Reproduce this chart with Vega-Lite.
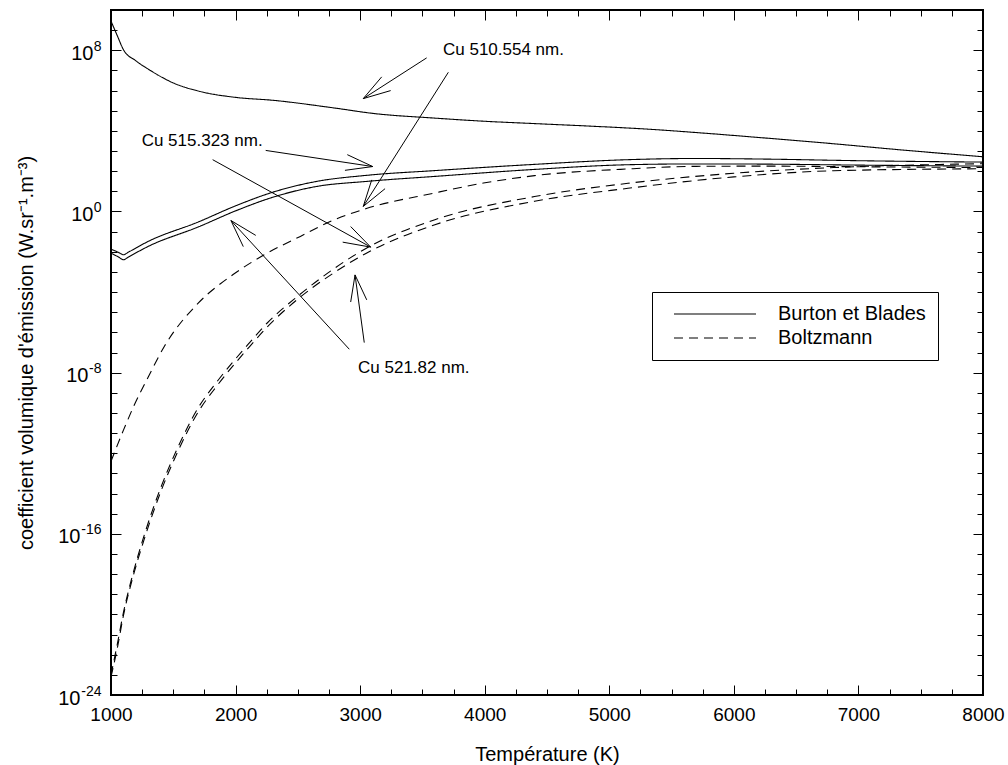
{
  "$schema": "https://vega.github.io/schema/vega-lite/v6.json",
  "width": 872,
  "height": 685,
  "autosize": {"type": "none"},
  "padding": {"left": 111, "top": 10, "right": 25, "bottom": 70},
  "config": {
    "font": "Liberation Sans",
    "view": {"stroke": "black", "strokeWidth": 2},
    "axis": {
      "domain": false, "grid": false, "ticks": true, "tickColor": "black", "tickWidth": 1, "tickOpacity": 1,
      "labelColor": "black", "titleColor": "black", "labelFont": "Liberation Sans", "titleFont": "Liberation Sans",
      "labelFontSize": 19, "titleFontSize": 20, "titleFontWeight": "normal", "zindex": 1
    }
  },
  "datasets": {
    "curves": [
      {"line": "510.554", "model": "Burton et Blades", "T": 1000, "v": 2.8e9},
      {"line": "510.554", "model": "Burton et Blades", "T": 1050, "v": 5.4e8},
      {"line": "510.554", "model": "Burton et Blades", "T": 1100, "v": 1.07e8},
      {"line": "510.554", "model": "Burton et Blades", "T": 1200, "v": 3.0e7},
      {"line": "510.554", "model": "Burton et Blades", "T": 1300, "v": 1.15e7},
      {"line": "510.554", "model": "Burton et Blades", "T": 1500, "v": 2.4e6},
      {"line": "510.554", "model": "Burton et Blades", "T": 1700, "v": 9.5e5},
      {"line": "510.554", "model": "Burton et Blades", "T": 2000, "v": 4.6e5},
      {"line": "510.554", "model": "Burton et Blades", "T": 2300, "v": 3.3e5},
      {"line": "510.554", "model": "Burton et Blades", "T": 2800, "v": 1.35e5},
      {"line": "510.554", "model": "Burton et Blades", "T": 3100, "v": 7.4e4},
      {"line": "510.554", "model": "Burton et Blades", "T": 3600, "v": 4.3e4},
      {"line": "510.554", "model": "Burton et Blades", "T": 4000, "v": 3.0e4},
      {"line": "510.554", "model": "Burton et Blades", "T": 4400, "v": 2.3e4},
      {"line": "510.554", "model": "Burton et Blades", "T": 4900, "v": 1.66e4},
      {"line": "510.554", "model": "Burton et Blades", "T": 5300, "v": 1.23e4},
      {"line": "510.554", "model": "Burton et Blades", "T": 5800, "v": 7.4e3},
      {"line": "510.554", "model": "Burton et Blades", "T": 6200, "v": 4.7e3},
      {"line": "510.554", "model": "Burton et Blades", "T": 6800, "v": 2.3e3},
      {"line": "510.554", "model": "Burton et Blades", "T": 7300, "v": 1.2e3},
      {"line": "510.554", "model": "Burton et Blades", "T": 8000, "v": 5.2e2},

      {"line": "515.323", "model": "Burton et Blades", "T": 1000, "v": 1.35e-2},
      {"line": "515.323", "model": "Burton et Blades", "T": 1060, "v": 9.3e-3},
      {"line": "515.323", "model": "Burton et Blades", "T": 1100, "v": 7.1e-3},
      {"line": "515.323", "model": "Burton et Blades", "T": 1140, "v": 9.6e-3},
      {"line": "515.323", "model": "Burton et Blades", "T": 1300, "v": 3.3e-2},
      {"line": "515.323", "model": "Burton et Blades", "T": 1700, "v": 0.30},
      {"line": "515.323", "model": "Burton et Blades", "T": 2000, "v": 1.9},
      {"line": "515.323", "model": "Burton et Blades", "T": 2300, "v": 9.1},
      {"line": "515.323", "model": "Burton et Blades", "T": 2650, "v": 31},
      {"line": "515.323", "model": "Burton et Blades", "T": 3050, "v": 62},
      {"line": "515.323", "model": "Burton et Blades", "T": 3600, "v": 107},
      {"line": "515.323", "model": "Burton et Blades", "T": 4350, "v": 209},
      {"line": "515.323", "model": "Burton et Blades", "T": 5150, "v": 372},
      {"line": "515.323", "model": "Burton et Blades", "T": 5700, "v": 427},
      {"line": "515.323", "model": "Burton et Blades", "T": 6250, "v": 398},
      {"line": "515.323", "model": "Burton et Blades", "T": 7000, "v": 331},
      {"line": "515.323", "model": "Burton et Blades", "T": 8000, "v": 282},

      {"line": "521.82", "model": "Burton et Blades", "T": 1000, "v": 8.5e-3},
      {"line": "521.82", "model": "Burton et Blades", "T": 1060, "v": 5.5e-3},
      {"line": "521.82", "model": "Burton et Blades", "T": 1100, "v": 4.0e-3},
      {"line": "521.82", "model": "Burton et Blades", "T": 1140, "v": 5.5e-3},
      {"line": "521.82", "model": "Burton et Blades", "T": 1300, "v": 1.86e-2},
      {"line": "521.82", "model": "Burton et Blades", "T": 1700, "v": 0.17},
      {"line": "521.82", "model": "Burton et Blades", "T": 2000, "v": 1.07},
      {"line": "521.82", "model": "Burton et Blades", "T": 2300, "v": 5.1},
      {"line": "521.82", "model": "Burton et Blades", "T": 2650, "v": 17.4},
      {"line": "521.82", "model": "Burton et Blades", "T": 3050, "v": 31},
      {"line": "521.82", "model": "Burton et Blades", "T": 3600, "v": 55},
      {"line": "521.82", "model": "Burton et Blades", "T": 4350, "v": 117},
      {"line": "521.82", "model": "Burton et Blades", "T": 5150, "v": 209},
      {"line": "521.82", "model": "Burton et Blades", "T": 5700, "v": 229},
      {"line": "521.82", "model": "Burton et Blades", "T": 6250, "v": 224},
      {"line": "521.82", "model": "Burton et Blades", "T": 7000, "v": 200},
      {"line": "521.82", "model": "Burton et Blades", "T": 8000, "v": 178},

      {"line": "510.554", "model": "Boltzmann", "T": 1000, "v": 4.0e-13},
      {"line": "510.554", "model": "Boltzmann", "T": 1100, "v": 1.4e-11},
      {"line": "510.554", "model": "Boltzmann", "T": 1180, "v": 2.0e-10},
      {"line": "510.554", "model": "Boltzmann", "T": 1300, "v": 6.3e-9},
      {"line": "510.554", "model": "Boltzmann", "T": 1430, "v": 2.1e-7},
      {"line": "510.554", "model": "Boltzmann", "T": 1700, "v": 2.8e-5},
      {"line": "510.554", "model": "Boltzmann", "T": 1980, "v": 7.4e-4},
      {"line": "510.554", "model": "Boltzmann", "T": 2230, "v": 7.1e-3},
      {"line": "510.554", "model": "Boltzmann", "T": 2520, "v": 5.8e-2},
      {"line": "510.554", "model": "Boltzmann", "T": 2780, "v": 0.36},
      {"line": "510.554", "model": "Boltzmann", "T": 3050, "v": 1.4},
      {"line": "510.554", "model": "Boltzmann", "T": 3590, "v": 8.1},
      {"line": "510.554", "model": "Boltzmann", "T": 3990, "v": 25.7},
      {"line": "510.554", "model": "Boltzmann", "T": 4400, "v": 60},
      {"line": "510.554", "model": "Boltzmann", "T": 5150, "v": 129},
      {"line": "510.554", "model": "Boltzmann", "T": 5700, "v": 174},
      {"line": "510.554", "model": "Boltzmann", "T": 6250, "v": 178},
      {"line": "510.554", "model": "Boltzmann", "T": 7000, "v": 166},
      {"line": "510.554", "model": "Boltzmann", "T": 8000, "v": 151},

      {"line": "515.323", "model": "Boltzmann", "T": 1000, "v": 1.0e-23},
      {"line": "515.323", "model": "Boltzmann", "T": 1050, "v": 3.2e-22},
      {"line": "515.323", "model": "Boltzmann", "T": 1100, "v": 1.26e-20},
      {"line": "515.323", "model": "Boltzmann", "T": 1180, "v": 1.26e-18},
      {"line": "515.323", "model": "Boltzmann", "T": 1260, "v": 6.3e-17},
      {"line": "515.323", "model": "Boltzmann", "T": 1400, "v": 2.0e-14},
      {"line": "515.323", "model": "Boltzmann", "T": 1530, "v": 1.6e-12},
      {"line": "515.323", "model": "Boltzmann", "T": 1700, "v": 1.8e-10},
      {"line": "515.323", "model": "Boltzmann", "T": 1850, "v": 3.5e-9},
      {"line": "515.323", "model": "Boltzmann", "T": 2100, "v": 2.5e-7},
      {"line": "515.323", "model": "Boltzmann", "T": 2250, "v": 2.75e-6},
      {"line": "515.323", "model": "Boltzmann", "T": 2500, "v": 6.3e-5},
      {"line": "515.323", "model": "Boltzmann", "T": 2800, "v": 1.6e-3},
      {"line": "515.323", "model": "Boltzmann", "T": 3050, "v": 1.5e-2},
      {"line": "515.323", "model": "Boltzmann", "T": 3600, "v": 0.39},
      {"line": "515.323", "model": "Boltzmann", "T": 4400, "v": 5.5},
      {"line": "515.323", "model": "Boltzmann", "T": 5150, "v": 25},
      {"line": "515.323", "model": "Boltzmann", "T": 6000, "v": 79},
      {"line": "515.323", "model": "Boltzmann", "T": 6800, "v": 151},
      {"line": "515.323", "model": "Boltzmann", "T": 8000, "v": 234},

      {"line": "521.82", "model": "Boltzmann", "T": 1000, "v": 7.9e-24},
      {"line": "521.82", "model": "Boltzmann", "T": 1050, "v": 2.0e-22},
      {"line": "521.82", "model": "Boltzmann", "T": 1100, "v": 8.9e-21},
      {"line": "521.82", "model": "Boltzmann", "T": 1180, "v": 8.9e-19},
      {"line": "521.82", "model": "Boltzmann", "T": 1260, "v": 4.0e-17},
      {"line": "521.82", "model": "Boltzmann", "T": 1400, "v": 1.26e-14},
      {"line": "521.82", "model": "Boltzmann", "T": 1530, "v": 1.0e-12},
      {"line": "521.82", "model": "Boltzmann", "T": 1700, "v": 1.12e-10},
      {"line": "521.82", "model": "Boltzmann", "T": 1850, "v": 2.2e-9},
      {"line": "521.82", "model": "Boltzmann", "T": 2100, "v": 1.6e-7},
      {"line": "521.82", "model": "Boltzmann", "T": 2250, "v": 1.74e-6},
      {"line": "521.82", "model": "Boltzmann", "T": 2500, "v": 4.5e-5},
      {"line": "521.82", "model": "Boltzmann", "T": 2800, "v": 1.0e-3},
      {"line": "521.82", "model": "Boltzmann", "T": 3050, "v": 8.5e-3},
      {"line": "521.82", "model": "Boltzmann", "T": 3600, "v": 0.22},
      {"line": "521.82", "model": "Boltzmann", "T": 4400, "v": 3.2},
      {"line": "521.82", "model": "Boltzmann", "T": 5150, "v": 14.1},
      {"line": "521.82", "model": "Boltzmann", "T": 6000, "v": 52},
      {"line": "521.82", "model": "Boltzmann", "T": 6800, "v": 105},
      {"line": "521.82", "model": "Boltzmann", "T": 8000, "v": 132}
    ],
    "arrows": [
      {"part": "shaft", "T": 3534, "v": 4.2e7, "T2": 3025, "v2": 4.0e5},
      {"part": "head", "T": 3173, "v": 4.8e6, "T2": 3025, "v2": 4.0e5},
      {"part": "head", "T": 3245, "v": 1.0e6, "T2": 3025, "v2": 4.0e5},
      {"part": "shaft", "T": 3708, "v": 8.1e6, "T2": 3025, "v2": 1.78},
      {"part": "head", "T": 3093, "v": 37, "T2": 3025, "v2": 1.78},
      {"part": "head", "T": 3200, "v": 13.5, "T2": 3025, "v2": 1.78},
      {"part": "shaft", "T": 2242, "v": 1070, "T2": 3101, "v2": 170},
      {"part": "head", "T": 2897, "v": 660, "T2": 3101, "v2": 170},
      {"part": "head", "T": 2878, "v": 110, "T2": 3101, "v2": 170},
      {"part": "shaft", "T": 1816, "v": 372, "T2": 3085, "v2": 0.017},
      {"part": "head", "T": 2924, "v": 0.178, "T2": 3085, "v2": 0.017},
      {"part": "head", "T": 2860, "v": 0.030, "T2": 3085, "v2": 0.017},
      {"part": "shaft", "T": 2913, "v": 1.45e-7, "T2": 1963, "v2": 0.355},
      {"part": "head", "T": 2062, "v": 0.018, "T2": 1963, "v2": 0.355},
      {"part": "head", "T": 2162, "v": 0.065, "T2": 1963, "v2": 0.355},
      {"part": "shaft", "T": 3033, "v": 3.1e-7, "T2": 2959, "v2": 7.1e-4},
      {"part": "head", "T": 2924, "v": 3.2e-5, "T2": 2959, "v2": 7.1e-4},
      {"part": "head", "T": 3053, "v": 4.1e-5, "T2": 2959, "v2": 7.1e-4}
    ],
    "labels": [
      {"T": 3665, "v": 1.0e8, "text": "Cu 510.554 nm."},
      {"T": 1246, "v": 3100, "text": "Cu 515.323 nm."},
      {"T": 2983, "v": 1.7e-8, "text": "Cu 521.82 nm."}
    ]
  },
  "layer": [
    {
      "data": {"name": "curves"},
      "mark": {"type": "line", "color": "black", "strokeWidth": 1.1, "interpolate": "monotone", "clip": true},
      "encoding": {
        "x": {
          "field": "T", "type": "quantitative",
          "scale": {"domain": [1000, 8000], "nice": false, "zero": false},
          "axis": {
            "orient": "bottom",
            "values": [1000, 2000, 3000, 4000, 5000, 6000, 7000, 8000],
            "format": "d",
            "labelFlush": false,
            "labelOverlap": false,
            "offset": -10,
            "tickSize": 10,
            "labelPadding": 10,
            "title": "Température (K)",
            "titlePadding": 20
          }
        },
        "y": {
          "field": "v", "type": "quantitative",
          "scale": {"type": "log", "domain": [1e-24, 1e10], "nice": false},
          "axis": {
            "orient": "left",
            "values": [1e-24, 1e-16, 1e-8, 1, 1e8],
            "labelExpr": "'10'",
            "labelOverlap": false,
            "labelFlush": false,
            "labelFontSize": 20,
            "labelBaseline": "middle",
            "labelOffset": 3,
            "offset": -10,
            "tickSize": 10,
            "labelPadding": {"condition": [{"test": "datum.value < 1e-12", "value": 31}, {"test": "datum.value < 0.5", "value": 23}], "value": 18},
            "title": "coefficient volumique d'émission (W.sr⁻¹.m⁻³)",
            "titlePadding": 21
          }
        },
        "strokeDash": {
          "field": "model", "type": "nominal",
          "scale": {"domain": ["Burton et Blades", "Boltzmann"], "range": [[1, 0], [9, 6]]},
          "legend": {
            "orient": "none", "legendX": 541, "legendY": 282, "title": null,
            "strokeColor": "black", "fillColor": "white", "padding": 12,
            "symbolType": "M0,0H10", "symbolSize": 269, "symbolStrokeWidth": 1.1, "symbolStrokeColor": "black",
            "labelFont": "Liberation Sans", "labelFontSize": 20, "labelColor": "black", "labelOffset": 94, "rowPadding": 4
          }
        },
        "detail": {"field": "line", "type": "nominal"}
      }
    },
    {
      "data": {"name": "arrows"},
      "transform": [{"filter": "datum.part === 'shaft'"}],
      "mark": {"type": "rule", "color": "black", "strokeWidth": 1},
      "encoding": {
        "x": {
          "field": "T", "type": "quantitative",
          "scale": {"domain": [1000, 8000], "nice": false, "zero": false},
          "axis": {"orient": "top", "values": [2000, 3000, 4000, 5000, 6000, 7000], "labels": false, "title": null, "offset": -10, "tickSize": 10}
        },
        "x2": {"field": "T2"},
        "y": {
          "field": "v", "type": "quantitative",
          "scale": {"type": "log", "domain": [1e-24, 1e10], "nice": false},
          "axis": {"orient": "right", "values": [1e-16, 1e-8, 1, 1e8], "labels": false, "title": null, "offset": -10, "tickSize": 10}
        },
        "y2": {"field": "v2"}
      }
    },
    {
      "data": {"name": "arrows"},
      "transform": [{"filter": "datum.part === 'head'"}],
      "mark": {"type": "rule", "color": "black", "strokeWidth": 1},
      "encoding": {
        "x": {
          "field": "T", "type": "quantitative",
          "scale": {"domain": [1000, 8000], "nice": false, "zero": false},
          "axis": {"orient": "top", "values": [1250,1500,1750,2250,2500,2750,3250,3500,3750,4250,4500,4750,5250,5500,5750,6250,6500,6750,7250,7500,7750], "labels": false, "title": null, "offset": -6, "tickSize": 6}
        },
        "x2": {"field": "T2"},
        "y": {
          "field": "v", "type": "quantitative",
          "scale": {"type": "log", "domain": [1e-24, 1e10], "nice": false},
          "axis": {"orient": "right", "values": [1e-23,1e-22,1e-21,1e-20,1e-19,1e-18,1e-17,1e-15,1e-14,1e-13,1e-12,1e-11,1e-10,1e-9,1e-7,1e-6,1e-5,1e-4,1e-3,0.01,0.1,10,100,1000,1e4,1e5,1e6,1e7,1e9], "labels": false, "title": null, "offset": -6, "tickSize": 6}
        },
        "y2": {"field": "v2"}
      }
    },
    {
      "data": {"name": "labels"},
      "transform": [{"filter": "datum.v > 1"}],
      "mark": {"type": "text", "align": "left", "baseline": "middle", "font": "Liberation Sans", "fontSize": 17, "color": "black"},
      "encoding": {
        "x": {
          "field": "T", "type": "quantitative",
          "scale": {"domain": [1000, 8000], "nice": false, "zero": false},
          "axis": {"orient": "bottom", "values": [1250,1500,1750,2250,2500,2750,3250,3500,3750,4250,4500,4750,5250,5500,5750,6250,6500,6750,7250,7500,7750], "labels": false, "title": null, "offset": -6, "tickSize": 6}
        },
        "y": {
          "field": "v", "type": "quantitative",
          "scale": {"type": "log", "domain": [1e-24, 1e10], "nice": false},
          "axis": {"orient": "left", "values": [1e-23,1e-22,1e-21,1e-20,1e-19,1e-18,1e-17,1e-15,1e-14,1e-13,1e-12,1e-11,1e-10,1e-9,1e-7,1e-6,1e-5,1e-4,1e-3,0.01,0.1,10,100,1000,1e4,1e5,1e6,1e7,1e9], "labels": false, "title": null, "offset": -6, "tickSize": 6}
        },
        "text": {"field": "text", "type": "nominal"}
      }
    },
    {
      "data": {"name": "labels"},
      "transform": [{"filter": "datum.v <= 1"}],
      "mark": {"type": "text", "align": "left", "baseline": "middle", "font": "Liberation Sans", "fontSize": 17, "color": "black"},
      "encoding": {
        "x": {"field": "T", "type": "quantitative", "scale": {"domain": [1000, 8000], "nice": false, "zero": false}, "axis": null},
        "y": {
          "field": "v", "type": "quantitative",
          "scale": {"type": "log", "domain": [1e-24, 1e10], "nice": false},
          "axis": {
            "orient": "left", "values": [1e-24, 1e-16, 1e-8, 1, 1e8],
            "labelExpr": "'' + round(log(datum.value)/LN10)",
            "labelOverlap": false, "labelFlush": false,
            "labelFontSize": 14, "labelAlign": "right", "labelBaseline": "middle", "labelOffset": -4,
            "ticks": false, "tickSize": 0, "labelPadding": 10, "title": null
          }
        },
        "text": {"field": "text", "type": "nominal"}
      }
    }
  ],
  "resolve": {"axis": {"x": "independent", "y": "independent"}}
}
